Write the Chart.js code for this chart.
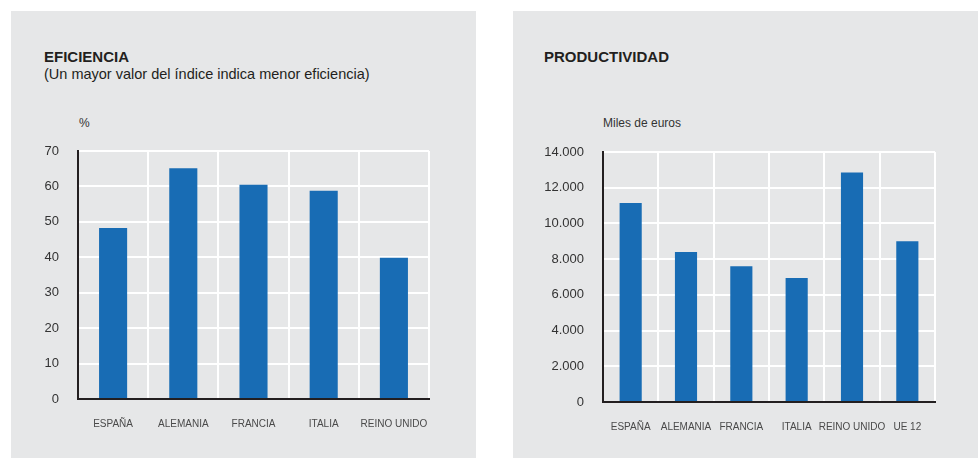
<!DOCTYPE html>
<html lang="es">
<head>
<meta charset="utf-8">
<title>Eficiencia y productividad</title>
<script src="https://cdn.jsdelivr.net/npm/chart.js@4"></script>
<style>
  html, body { margin: 0; padding: 0; background: #fff; }
  body { width: 978px; height: 459px; position: relative; overflow: hidden;
         font-family: "Liberation Sans", Arial, Helvetica, sans-serif; color: #231f20; }
  .panel { position: absolute; top: 11px; height: 447px; background: #e6e7e8; }
  .panel canvas { position: absolute; left: 0; top: 0; }
  .title { position: absolute; font-weight: bold; font-size: 15px; }
  .sub { position: absolute; font-size: 14.5px; }
  .unit { position: absolute; font-size: 12px; color: #333; }
</style>
</head>
<body>
<div class="panel" id="p1" style="left:11px;width:465px">
  <div class="title" style="left:33px;top:37px">EFICIENCIA</div>
  <div class="sub" style="left:33px;top:55px">(Un mayor valor del índice indica menor eficiencia)</div>
  <div class="unit" style="left:68px;top:105px">%</div>
  <canvas id="chart1" width="465" height="447"></canvas>
</div>
<div class="panel" id="p2" style="left:513px;width:465px">
  <div class="title" style="left:31px;top:37px">PRODUCTIVIDAD</div>
  <div class="unit" style="left:90px;top:105px">Miles de euros</div>
  <canvas id="chart2" width="465" height="447"></canvas>
</div>
<script>
// eficiencia (%), indice mayor = menos eficiente
const efCategories = ['ESPAÑA', 'ALEMANIA', 'FRANCIA', 'ITALIA', 'REINO UNIDO'];
const efValues = [48.3, 65.1, 60.5, 58.8, 39.9];
const efMax = 70;
const efStep = 10;

// productividad (miles de euros)
const prCategories = ['ESPAÑA', 'ALEMANIA', 'FRANCIA', 'ITALIA', 'REINO UNIDO', 'UE 12'];
const prValues = [11150, 8400, 7600, 6950, 12850, 9000];
const prMax = 14000;
const prStep = 2000;

const BAR = '#186cb4';
const FONT = '"Liberation Sans", Arial, Helvetica, sans-serif';

function miles(n){
  // 14000 -> 14.000
  return String(n).replace(/\B(?=(\d{3})+(?!\d))/g, '.');
}

function makeChart(id, labels, values, max, step, opts){
  const ctx = document.getElementById(id).getContext('2d');
  return new Chart(ctx, {
    type: 'bar',
    data: {
      labels: labels,
      datasets: [{
        data: values,
        backgroundColor: BAR,
        borderWidth: 0,
        categoryPercentage: 1,
        barPercentage: 0.4
      }]
    },
    options: {
      responsive: false,
      animation: false,
      devicePixelRatio: 1,
      layout: { padding: { left: 0, right: opts.right, top: opts.top, bottom: 0 } },
      plugins: { legend: { display: false }, tooltip: { enabled: false } },
      scales: {
        x: {
          grid: { color: '#ffffff', lineWidth: 2, drawTicks: false },
          border: { display: true, color: '#231f20', width: 2 },
          ticks: { color: '#4a4a4a', font: { family: FONT, size: 10 }, padding: 19, maxRotation: 0, autoSkip: false },
          afterFit: s => { s.height = opts.xh; }
        },
        y: {
          min: 0,
          max: max,
          grid: { color: '#ffffff', lineWidth: 2, drawTicks: false },
          border: { display: true, color: '#231f20', width: 2 },
          ticks: {
            stepSize: step,
            color: '#333333',
            font: { family: FONT, size: 13 },
            padding: 19,
            callback: v => opts.fmt(v)
          },
          afterFit: s => { s.width = opts.yw; }
        }
      }
    }
  });
}

makeChart('chart1', efCategories, efValues, efMax, efStep,
  { yw: 67, right: 47, top: 140, xh: 59, fmt: v => String(v) });
makeChart('chart2', prCategories, prValues, prMax, prStep,
  { yw: 90, right: 43, top: 141, xh: 56, fmt: v => miles(v) });
</script>
</body>
</html>
